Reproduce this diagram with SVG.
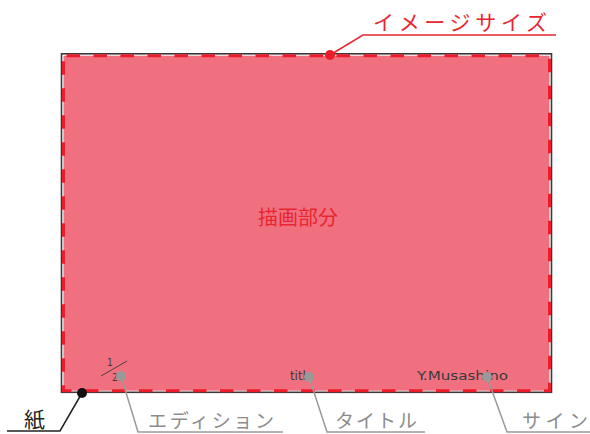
<svg xmlns="http://www.w3.org/2000/svg" width="590" height="434" viewBox="0 0 590 434">
<style>
.jp{font-family:"Noto Sans CJK JP","Noto Sans",sans-serif;}
.red{fill:#e8262f;}
.gray{fill:#8c8c8c;}
.lead-red{stroke:#e8262f;stroke-width:1.5;fill:none;}
.lead-gray{stroke:#9a9a9a;stroke-width:1.5;fill:none;}
.lead-blk{stroke:#222;stroke-width:1.5;fill:none;}
.hand{font-family:"DejaVu Sans Condensed","DejaVu Sans",sans-serif;fill:#3a3a3a;}
</style>
<rect width="590" height="434" fill="#fff"/>
<g id="paper">
<rect x="61.5" y="53.8" width="490" height="338.5" fill="#fff" stroke="#3a3a3a" stroke-width="1.6"/>
</g>
<g id="image-area">
<rect x="63.5" y="55.7" width="486" height="335" fill="#f07080" stroke="#ec1c2a" stroke-width="3" stroke-dasharray="13.5 13.5" stroke-dashoffset="-3"/>
<text x="298" y="225" class="jp red" font-size="20" text-anchor="middle">描画部分</text>
</g>
<g id="edition-mark">
<text x="107" y="366" class="hand" font-size="10">1</text>
<line x1="101" y1="376" x2="127" y2="361" stroke="#3a3a3a" stroke-width="0.9"/>
<text x="112" y="381" class="hand" font-size="10">20</text>
</g>
<g id="title-mark">
<text x="290" y="380" class="hand" font-size="13" textLength="23" lengthAdjust="spacingAndGlyphs">title</text>
</g>
<g id="sign-mark">
<text x="417" y="380" class="hand" font-size="12" textLength="91" lengthAdjust="spacingAndGlyphs">Y.Musashino</text>
</g>
<g id="connectors">
<polyline class="lead-red" points="330,55 363,35 556,35"/>
<polyline class="lead-blk" points="82,393 60,431 7,431"/>
<polyline class="lead-gray" points="121,376 138,432 283,432"/>
<polyline class="lead-gray" points="309,377 327,432 425,432"/>
<polyline class="lead-gray" points="487,377 507,432 590,432"/>
</g>
<g id="label-image-size">
<circle cx="330" cy="55" r="5" fill="#ec1c2a"/>
<text x="373" y="30" class="jp red" font-size="21" textLength="174" lengthAdjust="spacing">イメージサイズ</text>
</g>
<g id="label-paper">
<circle cx="82" cy="393" r="5" fill="#111"/>
<text x="24" y="427" class="jp" fill="#222" font-size="21">紙</text>
</g>
<g id="label-edition">
<circle cx="121" cy="376" r="5" fill="#999"/>
<text x="148" y="428" class="jp gray" font-size="19" textLength="126" lengthAdjust="spacing">エディション</text>
</g>
<g id="label-title">
<circle cx="309" cy="377" r="5" fill="#999"/>
<text x="335" y="428" class="jp gray" font-size="19" textLength="82" lengthAdjust="spacing">タイトル</text>
</g>
<g id="label-sign">
<circle cx="487" cy="377" r="5" fill="#999"/>
<text x="522" y="428" class="jp gray" font-size="19" textLength="66" lengthAdjust="spacing">サイン</text>
</g>
</svg>
